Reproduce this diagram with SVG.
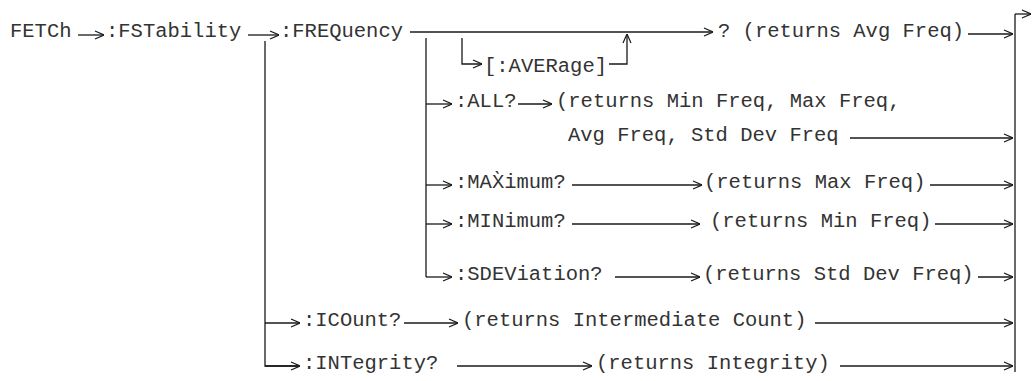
<svg xmlns="http://www.w3.org/2000/svg" width="1033" height="381" viewBox="0 0 1033 381">
<defs>
<marker id="ah" viewBox="0 0 10 10" refX="10" refY="5" markerWidth="10" markerHeight="10" markerUnits="userSpaceOnUse" orient="auto">
<path d="M1,1 L10,5 L1,9" fill="none" stroke="#1a1a1a" stroke-width="1.2"/>
</marker>
</defs>
<style>
text{font-family:"Liberation Mono","DejaVu Sans Mono",monospace;font-size:20.5px;fill:#333}
.c{stroke:#1a1a1a;stroke-width:1.3;fill:none}
.a{marker-end:url(#ah)}
</style>
<rect width="1033" height="381" fill="#fff"/>
<g id="connectors">
<line class="c a" x1="78" y1="35" x2="104" y2="35"/>
<line class="c a" x1="248" y1="35" x2="279" y2="35"/>
<path class="c" d="M265,41 V366 H298"/>
<line class="c a" x1="265" y1="323" x2="300" y2="323"/>
<line class="c a" x1="265" y1="366" x2="300" y2="366"/>
<line class="c a" x1="410" y1="32" x2="713" y2="32"/>
<path class="c" d="M426,38 V277"/>
<path class="c a" d="M462,38 V64 H482"/>
<path class="c a" d="M609,64 H627 V34"/>
<line class="c a" x1="426" y1="104" x2="452" y2="104"/>
<line class="c a" x1="518" y1="104" x2="552" y2="104"/>
<line class="c a" x1="426" y1="185" x2="452" y2="185"/>
<line class="c a" x1="572" y1="185" x2="702" y2="185"/>
<line class="c a" x1="426" y1="224" x2="452" y2="224"/>
<line class="c a" x1="572" y1="224" x2="700" y2="224"/>
<line class="c a" x1="426" y1="277" x2="452" y2="277"/>
<line class="c a" x1="615" y1="277" x2="700" y2="277"/>
<line class="c a" x1="404" y1="323" x2="458" y2="323"/>
<line class="c a" x1="457" y1="366" x2="592" y2="366"/>
<line class="c a" x1="968" y1="34" x2="1013" y2="34"/>
<line class="c a" x1="850" y1="138" x2="1013" y2="138"/>
<line class="c a" x1="930" y1="185" x2="1013" y2="185"/>
<line class="c a" x1="935" y1="224" x2="1013" y2="224"/>
<line class="c a" x1="978" y1="277" x2="1013" y2="277"/>
<line class="c a" x1="815" y1="323" x2="1013" y2="323"/>
<line class="c a" x1="840" y1="366" x2="1013" y2="366"/>
<line class="c" x1="1015" y1="14" x2="1015" y2="372"/>
<line class="c a" x1="1015" y1="14" x2="1031" y2="14"/>
</g>
<g id="n-fetch"><text x="10" y="37">FETCh</text></g>
<g id="n-fstability"><text x="106" y="37">:FSTability</text></g>
<g id="n-frequency"><text x="280" y="37">:FREQuency</text></g>
<g id="n-avg-result"><text x="718" y="37">? (returns Avg Freq)</text></g>
<g id="n-average"><text x="484" y="72">[:AVERage]</text></g>
<g id="n-all"><text x="455" y="107">:ALL?</text></g>
<g id="n-all-result"><text x="556" y="107">(returns Min Freq, Max Freq,</text><text x="568" y="141">Avg Freq, Std Dev Freq</text></g>
<g id="n-maximum"><text x="455" y="188">:MAX&#768;imum?</text></g>
<g id="n-max-result"><text x="704" y="188">(returns Max Freq)</text></g>
<g id="n-minimum"><text x="455" y="227">:MINimum?</text></g>
<g id="n-min-result"><text x="710" y="227">(returns Min Freq)</text></g>
<g id="n-sdeviation"><text x="455" y="280">:SDEViation?</text></g>
<g id="n-sdev-result"><text x="703" y="280">(returns Std Dev Freq)</text></g>
<g id="n-icount"><text x="303" y="326">:ICOunt?</text></g>
<g id="n-icount-result"><text x="462" y="326">(returns Intermediate Count)</text></g>
<g id="n-integrity"><text x="303" y="369">:INTegrity?</text></g>
<g id="n-integrity-result"><text x="596" y="369">(returns Integrity)</text></g>
</svg>
